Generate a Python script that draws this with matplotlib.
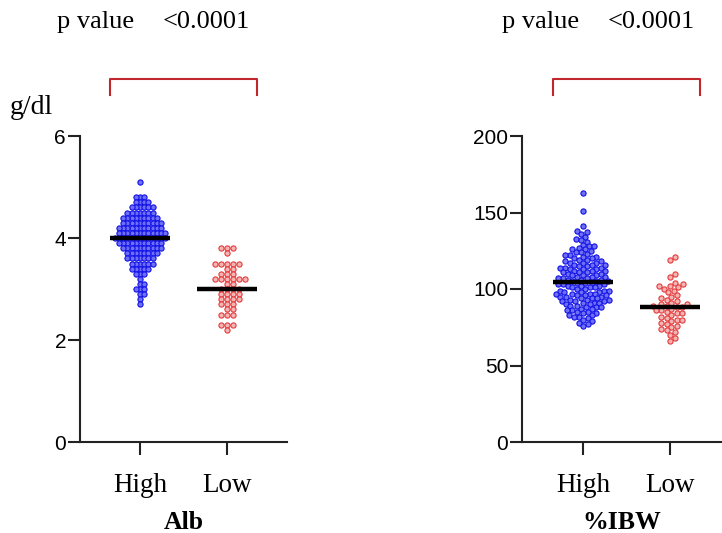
import numpy as np
import matplotlib
matplotlib.use("Agg")
import matplotlib.pyplot as plt

# Alb (g/dl): level -> number of patients (values are recorded to 0.1)
alb_high_levels = [5.1, 4.8, 4.7, 4.6, 4.5, 4.4, 4.3, 4.2, 4.1, 4.0,
                   3.9, 3.8, 3.7, 3.6, 3.5, 3.4, 3.3, 3.2, 3.1, 3.0, 2.9, 2.8, 2.7]
alb_high_counts = [1, 3, 4, 6, 7, 9, 10, 11, 12, 13,
                   11, 10, 8, 7, 6, 5, 3, 1, 2, 3, 2, 1, 1]
alb_low_levels = [3.8, 3.7, 3.5, 3.4, 3.3, 3.2, 3.1, 3.0, 2.9, 2.8, 2.7, 2.6, 2.5, 2.3, 2.2]
alb_low_counts = [3, 1, 5, 2, 3, 6, 2, 4, 4, 4, 3, 2, 3, 3, 1]

# %IBW values
ibw_high = [163, 151, 141, 138, 137, 136, 134, 133, 132, 131,
            129, 128, 128, 127, 126, 126, 125,
            124, 124, 123, 122, 122, 121, 121, 120, 120,
            119, 119, 118, 118, 117, 117, 117, 116, 116, 116, 115, 115,
            114, 114, 114, 113, 113, 113, 112, 112, 112, 111, 111, 111, 110, 110,
            109, 109, 109, 108, 108, 108, 107, 107, 107, 106, 106, 106, 105, 105, 105,
            104, 104, 104, 103, 103, 103, 102, 102, 102, 101, 101, 101, 100, 100,
            99, 99, 99, 98, 98, 98, 97, 97, 97, 97, 96, 96, 96, 95, 95, 95,
            94, 94, 94, 93, 93, 93, 92, 92, 92, 91, 91, 91, 90, 90,
            89, 89, 88, 88, 88, 87, 87, 86, 86, 85, 85,
            84, 84, 83, 83, 82, 82, 81, 80,
            79, 78, 77, 76]
ibw_low = [121, 119, 110, 108, 104, 103, 102, 102, 101, 100,
           99, 98, 96, 95, 94, 93, 92, 91, 90, 90,
           89, 89, 88, 88, 87, 86, 86, 85, 84, 84,
           83, 82, 81, 80, 80, 79, 78, 77, 76, 75,
           74, 73, 72, 70, 68, 66]

alb_high = np.repeat(alb_high_levels, alb_high_counts)
alb_low = np.repeat(alb_low_levels, alb_low_counts)

groups = ["High", "Low"]
blue_face, blue_edge = "#6f6ff5", "#1010e8"
red_face, red_edge = "#f6b3b3", "#e53a3a"
bracket_col = "#c0262c"

plt.rcParams["font.family"] = ["Liberation Serif", "DejaVu Serif"]

W, H = 722, 533
fig = plt.figure(figsize=(W / 100, H / 100), dpi=100)


def swarm(values, ppx, ppy, d, yscale=1.0):
    """simple beeswarm: returns x offsets (data units) for each value"""
    order = np.argsort(values, kind="stable")
    ys = np.asarray(values, float) * ppy * yscale
    placed_x, placed_y = [], []
    offs = np.zeros(len(values))
    for i in order:
        y = ys[i]
        cands = [0.0]
        for px, py in zip(placed_x, placed_y):
            dy = abs(y - py)
            if dy < d:
                dx = np.sqrt(d * d - dy * dy)
                cands += [px + dx, px - dx]
        cands.sort(key=abs)
        for c in cands:
            ok = True
            for px, py in zip(placed_x, placed_y):
                if (c - px) ** 2 + (y - py) ** 2 < d * d - 1e-6:
                    ok = False
                    break
            if ok:
                break
        placed_x.append(c)
        placed_y.append(y)
        offs[i] = c / ppx
    return offs


def panel(left_px, right_px, high_px, ylim, yticks, data, gaps, yscales, bracket_y, label, ptext_x):
    ppx = 87.0
    ax = fig.add_axes([left_px / W, (H - 442) / H, (right_px - left_px) / W, 306 / H])
    x0 = -(high_px - left_px) / ppx
    x1 = x0 + (right_px - left_px) / ppx
    ax.set_xlim(x0, x1)
    ax.set_ylim(*ylim)
    ppy = 306 / (ylim[1] - ylim[0])
    for k, (vals, fc, ec) in enumerate(zip(data, [blue_face, red_face], [blue_edge, red_edge])):
        vals = np.asarray(vals, float)
        offs = swarm(vals, ppx, ppy, gaps[k], yscales[k])
        ax.scatter(k + offs, vals, s=14, facecolor=fc, edgecolor=ec, linewidth=0.8,
                   zorder=3, clip_on=False)
        ax.plot([k - 0.34, k + 0.34], [np.median(vals)] * 2, color="black", lw=3.2, zorder=4,
                solid_capstyle="butt")
    for s in ["top", "right"]:
        ax.spines[s].set_visible(False)
    for s in ["left", "bottom"]:
        ax.spines[s].set_linewidth(1.5)
        ax.spines[s].set_color("#222222")
    ax.set_yticks(yticks)
    ax.set_yticklabels([str(t) for t in yticks], family=["Liberation Sans", "DejaVu Sans"], fontsize=15)
    ax.set_xticks([0, 1])
    ax.set_xticklabels(groups, fontsize=19.5)
    ax.tick_params(axis="x", length=9, width=1.5, pad=13, color="#222222")
    ax.tick_params(axis="y", length=9, width=1.5, pad=1, color="#222222")
    ax.set_xlabel(label, fontsize=18.5, fontweight="bold", labelpad=10)
    # significance bracket
    bx0, bx1 = -0.345, 1.34
    ax.plot([bx0, bx0, bx1, bx1], [bracket_y[0], bracket_y[1], bracket_y[1], bracket_y[0]],
            color=bracket_col, lw=1.5, clip_on=False)
    fig.text(ptext_x / W, 1 - 22 / H, "p value", fontsize=19, va="center", ha="left")
    fig.text((ptext_x + 106) / W, 1 - 22 / H, "<0.0001", fontsize=19, va="center", ha="left")
    return ax


panel(80, 287, 140, (0, 6), [0, 2, 4, 6], [alb_high, alb_low], (4.2, 6.0), (1.0, 1.2),
      (6.8, 7.12), "Alb", 57)
panel(522, 722, 583, (0, 200), [0, 50, 100, 150, 200], [ibw_high, ibw_low], (5.0, 5.6), (1.0, 1.0),
      (226.8, 237.3), "%IBW", 502)
fig.text(10 / W, 1 - 107 / H, "g/dl", fontsize=20, va="center", ha="left")

fig.savefig("out.png", dpi=100)
